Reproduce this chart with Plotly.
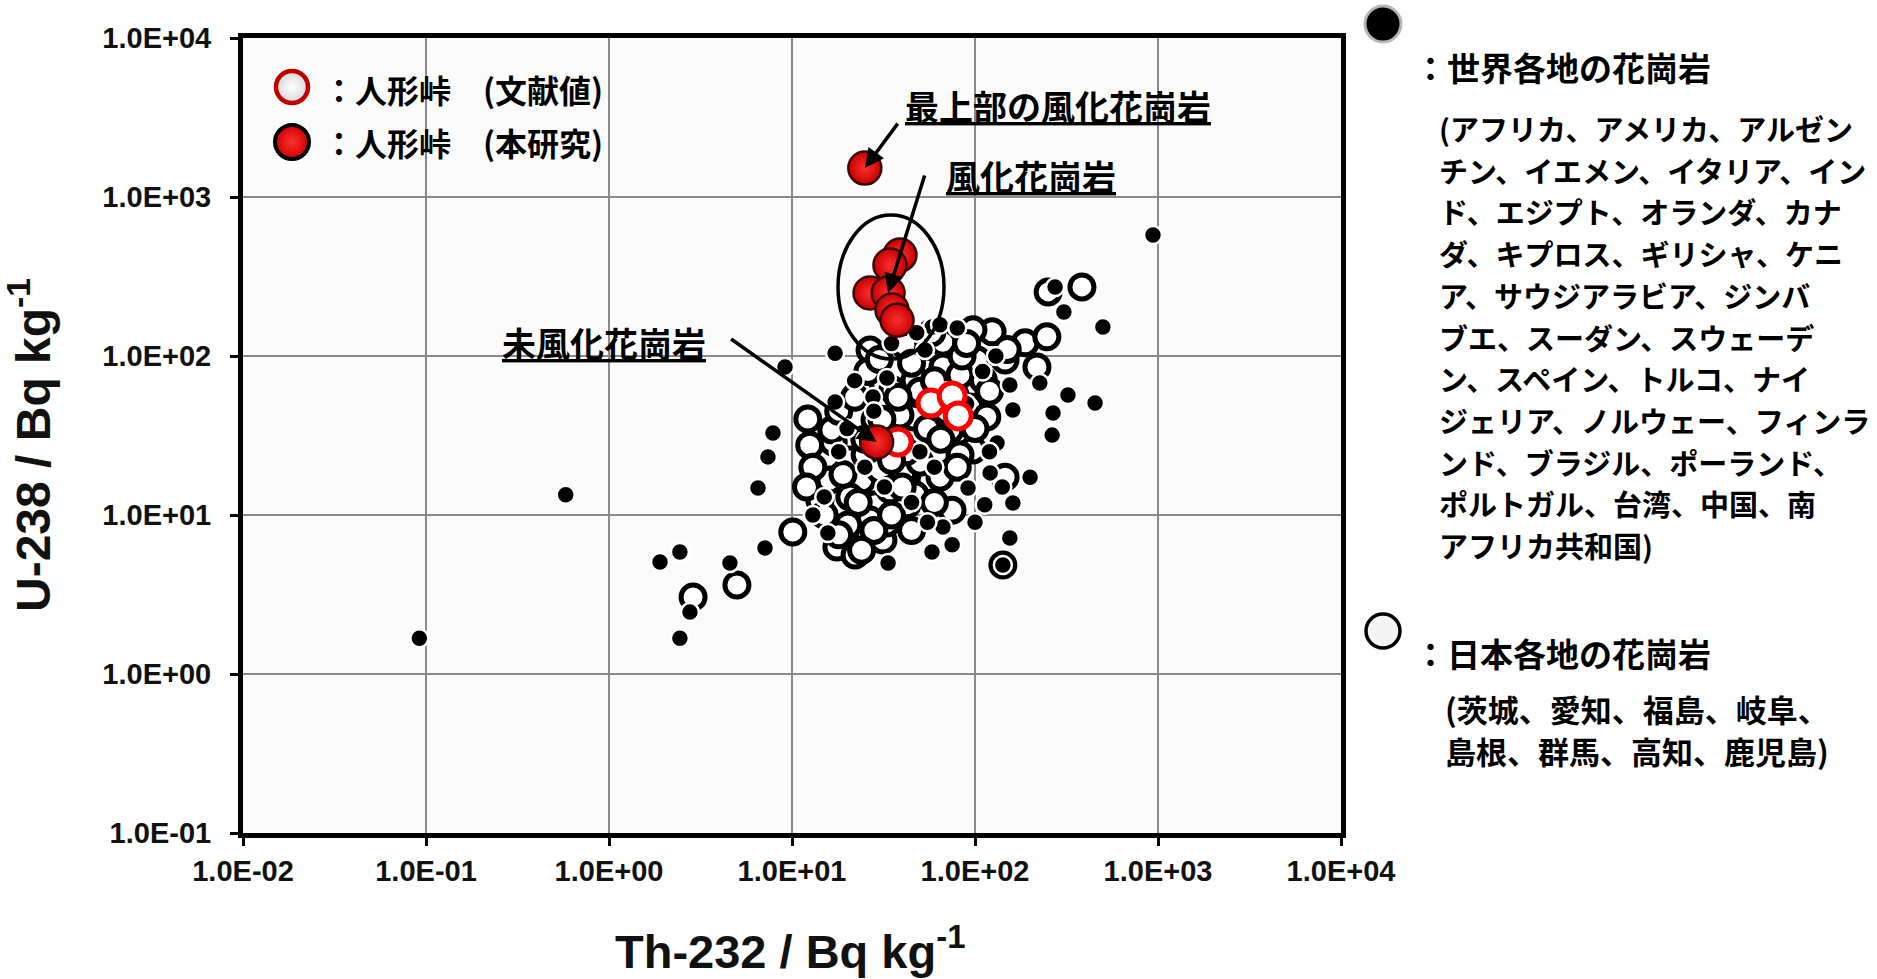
import plotly.graph_objects as go
import numpy as np

# ---------------- data ----------------
x_tickvals = [0.01, 0.1, 1, 10, 100, 1000, 10000]
x_ticktext = ["1.0E-02", "1.0E-01", "1.0E+00", "1.0E+01", "1.0E+02", "1.0E+03", "1.0E+04"]
y_tickvals = [0.1, 1, 10, 100, 1000, 10000]
y_ticktext = ["1.0E-01", "1.0E+00", "1.0E+01", "1.0E+02", "1.0E+03", "1.0E+04"]

# World granites (Th-232, U-238) Bq/kg
world_th = [0.092, 0.58, 1.90, 2.44, 4.58, 2.77, 2.44, 7.87, 7.39, 6.52, 13.0, 7.12, 15.7,
            33.5, 58.2, 17.2, 9.16, 17.2, 27.7, 33.0, 58.2, 274, 306, 500, 64.4, 155,
            161, 267, 453, 264, 322, 226, 200, 91.6, 113, 161, 121, 141, 155, 142, 66.8,
            132, 939, 53.3,
            20, 28, 40, 50, 32, 25, 45, 60, 70, 90, 110, 130, 22, 18, 55, 75, 100, 120,
            35, 48, 80, 15]
world_u = [1.68, 13.4, 5.06, 5.85, 4.99, 2.45, 1.68, 32.8, 23.2, 14.8, 10.0, 6.20, 7.7,
           4.99, 5.85, 104, 85.3, 51.4, 55.2, 72.7, 152, 272, 189, 152, 157, 65.7,
           45.7, 43.8, 50.6, 31.8, 56.9, 67.6, 17.3, 14.8, 11.6, 11.9, 18.4, 15.0, 7.17, 4.85, 8.41,
           28.4, 577, 109,
           35, 45, 30, 25, 15, 20, 12, 20, 60, 50, 80, 100, 70, 25, 9, 6.5, 9, 25,
           120, 140, 150, 13]

# Japanese granites
japan_th = [5.0, 10.1, 12.5, 16.8, 20.0, 31.4, 28.4, 42.5, 24.1, 40.4, 56.8, 58.9, 20.7,
            38.9, 20.7, 17.6, 33.0, 12.2, 16.5, 35.6, 54.7, 45.8, 384, 124, 97.5, 188,
            247, 218, 146, 66.8, 66.8, 103, 111, 94, 116, 62.8, 97.5, 74.9, 64.4, 142,
            251, 2.88, 146, 26.7, 41.4, 47.0, 23.5, 28.4, 73.0, 82.8, 25.1, 30.3, 50.1,
            26.7, 14.2, 16.1, 47.0, 77.8, 34.3, 20.2, 22.1, 38.9, 82.8,
            18, 22, 26, 30, 45, 50, 60, 70, 55, 42, 35, 25, 19, 23, 28, 35, 45, 60, 15,
            13, 31, 38, 85, 120, 100, 90, 58, 150, 18, 24, 40, 65, 80, 12]
japan_u = [3.63, 7.82, 27.5, 28.8, 6.67, 6.96, 11.6, 11.6, 16.6, 18.4, 16.6, 24.5, 13.0,
           28.4, 22.2, 6.29, 8.91, 40.2, 34.3, 61.1, 81.7, 41.3, 272, 142, 146, 121,
           132, 85.3, 94.4, 122, 85.3, 94.4, 70.6, 47.8, 41.3, 24.9, 25.6, 10.7, 17.3, 4.85,
           253, 3.05, 17.3, 109, 117, 70.6, 65.7, 39.6, 34.3, 23.9, 23.9, 19.2, 21.5,
           9.3, 12.4, 16.6, 13.4, 56.9, 14.4, 8.65, 5.6, 42.6, 76.0,
           45, 55, 80, 95, 90, 60, 70, 45, 35, 25, 22, 30, 18, 12, 8, 10, 8, 12, 10,
           20, 40, 55, 100, 60, 35, 120, 140, 110, 7.5, 6, 15, 30, 20, 15]

# Ningyo-toge (literature values)
ningyo_lit_th = [57.5, 75.0, 81.0, 38.0]
ningyo_lit_u = [50.6, 56.0, 42.0, 28.8]

# Ningyo-toge (this study): top-weathered, weathered x6, unweathered
ningyo_study_th = [25.0, 38.9, 34.3, 26.7, 33.5, 35.2, 37.5, 29.0]
ningyo_study_u = [1520, 432, 373, 249, 249, 195, 168, 28.8]

legend_inner = ["：人形峠　(文献値)", "：人形峠　(本研究)"]
world_heading = "：世界各地の花崗岩"
world_lines = ["(アフリカ、アメリカ、アルゼン", "チン、イエメン、イタリア、イン",
               "ド、エジプト、オランダ、カナ", "ダ、キプロス、ギリシャ、ケニ",
               "ア、サウジアラビア、ジンバ", "ブエ、スーダン、スウェーデ",
               "ン、スペイン、トルコ、ナイ", "ジェリア、ノルウェー、フィンラ",
               "ンド、ブラジル、ポーランド、", "ポルトガル、台湾、中国、南",
               "アフリカ共和国)"]
japan_heading = "：日本各地の花崗岩"
japan_lines = ["(茨城、愛知、福島、岐阜、", "島根、群馬、高知、鹿児島)"]

# ---------------- layout helpers ----------------
W, H = 1877, 979
L, R, T, B = 243, 1341, 38, 833   # plot frame in pixels


def px(x):
    return (x - L) / (R - L)


def py(y):
    return 1 - (y - T) / (B - T)


JP = "Noto Sans CJK JP"
LAT = "Liberation Sans, Arial"

fig = go.Figure()

fig.add_trace(go.Scatter(
    x=japan_th, y=japan_u, mode="markers", showlegend=False, hoverinfo="skip",
    marker=dict(size=24, color="white", line=dict(color="black", width=5))))

fig.add_trace(go.Scatter(
    x=world_th, y=world_u, mode="markers", showlegend=False, hoverinfo="skip",
    marker=dict(size=18, color="black", line=dict(color="white", width=2.5))))

fig.add_trace(go.Scatter(
    x=ningyo_lit_th, y=ningyo_lit_u, mode="markers", showlegend=False, hoverinfo="skip",
    marker=dict(size=26, color="white", line=dict(color="#ff0000", width=5))))

fig.add_trace(go.Scatter(
    x=ningyo_study_th, y=ningyo_study_u, mode="markers", showlegend=False, hoverinfo="skip",
    marker=dict(size=33, color="#c80000", gradient=dict(type="radial", color="#ff3030"),
                line=dict(color="#3a0a0a", width=2.5))))

# inner legend markers on an overlay axis in paper-like coordinates
fig.add_trace(go.Scatter(
    x=[px(292)], y=[py(87)], xaxis="x2", yaxis="y2", mode="markers", showlegend=False,
    hoverinfo="skip", cliponaxis=False,
    marker=dict(size=32, color="#d8d8d8", gradient=dict(type="radial", color="white"),
                line=dict(color="#c00000", width=4.5))))
fig.add_trace(go.Scatter(
    x=[px(292)], y=[py(142)], xaxis="x2", yaxis="y2", mode="markers", showlegend=False,
    hoverinfo="skip", cliponaxis=False,
    marker=dict(size=34, color="#d00000", gradient=dict(type="radial", color="#ff3030"),
                line=dict(color="black", width=4))))

annotations = []
# inner legend text
for txt, yy in zip(legend_inner, [89, 142]):
    annotations.append(dict(text=txt, x=px(321), y=py(yy), xref="paper", yref="paper",
                            xanchor="left", yanchor="middle", showarrow=False,
                            font=dict(family=JP, size=32, color="black", weight="bold")))

# right-hand legend text
annotations.append(dict(text=world_heading, x=px(1412), y=py(67), xref="paper", yref="paper",
                        xanchor="left", yanchor="middle", showarrow=False,
                        font=dict(family=JP, size=33, color="black", weight="bold")))
for i, line in enumerate(world_lines):
    annotations.append(dict(text=line, x=px(1437), y=py(128 + 41.7 * i), xref="paper", yref="paper",
                            xanchor="left", yanchor="middle", showarrow=False,
                            font=dict(family=JP, size=29, color="black", weight="bold")))
annotations.append(dict(text=japan_heading, x=px(1412), y=py(653), xref="paper", yref="paper",
                        xanchor="left", yanchor="middle", showarrow=False,
                        font=dict(family=JP, size=33, color="black", weight="bold")))
for i, line in enumerate(japan_lines):
    annotations.append(dict(text=line, x=px(1443), y=py(708 + 42 * i), xref="paper", yref="paper",
                            xanchor="left", yanchor="middle", showarrow=False,
                            font=dict(family=JP, size=31, color="black", weight="bold")))

# callout labels (underlined)
for txt, xx, yy in [("最上部の風化花崗岩", 1058, 106), ("風化花崗岩", 1031, 176), ("未風化花崗岩", 604, 342)]:
    annotations.append(dict(text="<u>" + txt + "</u>", x=px(xx), y=py(yy), xref="paper", yref="paper",
                            xanchor="center", yanchor="middle", showarrow=False,
                            font=dict(family=JP, size=34, color="black", weight="bold")))

# arrows pointing at data points
for i, (dx, dy) in zip([0, 4, 7], [(34, -46), (37, -119), (-147, -104)]):
    annotations.append(dict(text="", x=np.log10(ningyo_study_th[i]), y=np.log10(ningyo_study_u[i]),
                            xref="x", yref="y", ax=dx, ay=dy, showarrow=True,
                            arrowhead=2, arrowsize=1.1, arrowwidth=3.5, arrowcolor="black"))

# axis titles
annotations.append(dict(text="Th-232 / Bq kg<sup>-1</sup>", x=px(790), y=py(948), xref="paper", yref="paper",
                        xanchor="center", yanchor="middle", showarrow=False,
                        font=dict(family=LAT, size=47, color="#111111", weight="bold")))
annotations.append(dict(text="U-238 / Bq kg<sup>-1</sup>", x=px(30), y=py(445), xref="paper", yref="paper",
                        xanchor="center", yanchor="middle", showarrow=False, textangle=-90,
                        font=dict(family=LAT, size=48, color="#111111", weight="bold")))

shapes = [
    dict(type="circle", xref="paper", yref="paper",
         x0=px(838), x1=px(944), y0=py(359), y1=py(215),
         line=dict(color="black", width=3.5)),
    # right-hand legend symbols
    dict(type="circle", xref="paper", yref="paper", xsizemode="pixel", ysizemode="pixel",
         xanchor=px(1383), yanchor=py(24), x0=-18, x1=18, y0=-18, y1=18,
         fillcolor="black", line=dict(color="#b5b5b5", width=3)),
    dict(type="circle", xref="paper", yref="paper", xsizemode="pixel", ysizemode="pixel",
         xanchor=px(1383), yanchor=py(631), x0=-17, x1=17, y0=-17, y1=17,
         fillcolor="#f4f4f4", line=dict(color="black", width=3.5)),
]

axis_common = dict(
    type="log", showgrid=True, gridcolor="#8a8a8a", gridwidth=2,
    showline=True, linecolor="black", linewidth=5, mirror=True,
    ticks="outside", ticklen=8, tickwidth=3, tickcolor="black",
    tickfont=dict(family=LAT, size=29, color="#111111", weight="bold"),
    zeroline=False,
)

fig.update_layout(
    width=W, height=H, autosize=False,
    margin=dict(l=L, r=W - R, t=T, b=H - B, pad=0),
    paper_bgcolor="white", plot_bgcolor="#fbfbfb",
    xaxis=dict(axis_common, range=[-2, 4], tickvals=x_tickvals, ticktext=x_ticktext,
               ticklabelstandoff=0),
    yaxis=dict(axis_common, range=[-1, 4], tickvals=y_tickvals, ticktext=y_ticktext,
               ticklabelstandoff=13),
    xaxis2=dict(overlaying="x", range=[0, 1], visible=False, anchor="y2"),
    yaxis2=dict(overlaying="y", range=[0, 1], visible=False, anchor="x2"),
    annotations=annotations, shapes=shapes,
    showlegend=False,
)

fig.write_html("out.html", config={"displayModeBar": False})
